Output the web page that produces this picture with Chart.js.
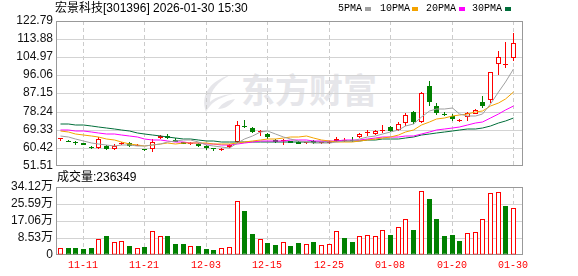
<!DOCTYPE html>
<html><head><meta charset="utf-8">
<script src="https://cdn.jsdelivr.net/npm/chart.js@4.4.1/dist/chart.umd.min.js"></script>
<style>
html,body{margin:0;padding:0;background:#fff;}
#wrap{position:relative;width:578px;height:276px;overflow:hidden;font-family:"Liberation Sans","Noto Sans CJK SC",sans-serif;}
#wm{position:absolute;left:241px;top:72px;font-size:34px;line-height:34px;font-weight:bold;color:#e6e6ea;font-family:"Noto Sans CJK SC",sans-serif;white-space:nowrap;}
#logo{position:absolute;left:198px;top:73px;}
canvas{position:absolute;left:0;}
#c1{top:0;} #c2{top:170px;}
.t{position:absolute;font-size:12px;line-height:12px;color:#000;white-space:nowrap;}
.lg{position:absolute;font-family:"Liberation Mono",monospace;font-size:10px;line-height:10px;color:#000;white-space:nowrap;top:4px;}
.sq{position:absolute;width:6px;height:4px;top:7px;}
</style></head>
<body>
<div id="wrap">
  <svg id="logo" width="40" height="42"><path d="M32 2 C12 8 2 22 8 39 C12 31 19 25 35 21 C23 22 16 25 12 29 C12 17 20 9 32 2 Z" fill="#e6e6ea"/><path d="M20 36 C24 30 30 27 37 26 C33 32 27 36 20 36 Z" fill="#e6e6ea"/></svg>
  <div id="wm">东方财富</div>
  <canvas id="c1" width="578" height="180"></canvas>
  <canvas id="c2" width="578" height="106"></canvas>
  <div class="t" style="left:55px;top:2px;">宏景科技[301396] 2026-01-30 15:30</div>
  <div class="lg" style="left:338px;">5PMA</div><div class="sq" style="left:365px;background:#a0a0a0"></div>
  <div class="lg" style="left:380px;">10PMA</div><div class="sq" style="left:412px;background:#f4a300"></div>
  <div class="lg" style="left:426px;">20PMA</div><div class="sq" style="left:459px;background:#ff00ff"></div>
  <div class="lg" style="left:472px;">30PMA</div><div class="sq" style="left:505px;background:#006e3a"></div>
  <div class="t" style="left:57px;top:171px;">成交量:236349</div>
</div>
<script>
const dates = ['11-06','11-07','11-10','11-11','11-12','11-13','11-14','11-17','11-18','11-19',
 '11-20','11-21','11-24','11-25','11-26','11-27','11-28','12-01','12-02','12-03',
 '12-04','12-05','12-08','12-09','12-10','12-11','12-12','12-15','12-16','12-17',
 '12-18','12-19','12-22','12-23','12-24','12-25','12-26','12-29','12-30','12-31',
 '01-05','01-06','01-07','01-08','01-09','01-12','01-13','01-14','01-15','01-16',
 '01-19','01-20','01-21','01-22','01-23','01-26','01-27','01-28','01-29','01-30'];
const open = [64.7,64.0,63.5,62.6,61.0,60.4,61.5,59.7,62.3,62.8, 61.5,59.8,59.8,65.1,66.3,64.5,63.2,62.4,62.4,61.4,
 60.3,59.6,60.7,63.3,71.1,70.4,68.1,67.3,64.5,63.8, 63.6,63.3,62.6,63.6,62.6,62.8,63.6,63.9,64.3,65.8,
 67.5,67.3,68.5,70.5,69.0,72.7,78.0,73.1,90.6,81.1, 77.0,76.2,73.4,75.4,77.1,83.2,84.1,101.6,101.2,104.5];
const close = [65.2,63.3,62.65,61.9,60.2,64.8,59.7,61.2,62.9,61.2, 62.0,59.2,63.5,66.3,65.5,63.5,62.5,62.9,61.2,60.2,
 59.7,60.1,61.9,71.7,70.5,68.1,68.7,65.6,63.1,64.4, 62.8,62.4,63.2,62.8,63.1,63.4,64.8,64.5,63.7,67.0,
 68.1,68.5,69.1,68.9,72.3,76.7,73.1,87.35,83.2,77.6, 76.4,74.4,74.0,77.6,79.0,80.8,97.9,105.0,101.8,111.86];
const high = [65.3,64.2,63.7,62.8,61.1,65.9,61.6,62.4,63.4,63.2, 62.2,60.0,64.8,66.8,67.2,65.1,63.5,63.2,62.6,61.9,
 60.6,60.3,62.1,73.8,74.1,70.9,69.0,67.8,64.7,64.6, 64.0,63.6,63.5,64.1,63.5,63.6,65.6,65.5,65.9,67.7,
 69.2,69.2,71.8,71.4,73.0,77.6,78.7,87.9,93.4,82.7, 78.3,77.1,74.6,78.3,79.4,85.7,97.9,107.8,112.7,116.8];
const low = [64.0,63.1,62.0,61.7,60.0,60.1,59.4,59.5,61.9,61.0, 61.3,58.9,58.4,64.6,65.0,63.3,62.2,62.0,61.0,59.6,
 59.0,58.9,60.6,63.0,70.0,67.8,66.4,64.9,62.9,62.0, 62.6,62.1,62.3,62.5,62.4,62.4,63.3,63.2,63.5,65.1,
 66.5,66.6,67.8,68.3,68.6,71.3,72.2,72.6,80.8,76.8, 75.9,73.8,73.3,73.8,77.0,80.0,82.5,96.3,99.9,102.9];
const volume = [37000,37000,37000,32000,37000,82000,93000,65000,70000,47000,
 36000,42000,120000,97000,97000,57000,57000,47000,47000,32000,
 27000,37000,42000,270000,221000,107000,82000,62000,52000,65000,
 47000,62000,56000,67000,52000,57000,122000,87000,67000,97000,
 102000,97000,125000,102000,141000,181000,126000,320000,282000,181000,
 97000,102000,72000,112000,117000,181000,309000,315000,246000,236349];
const ma5 = [66.4,65.6,64.7,63.6,62.59,62.57,61.85,61.56,61.72,61.92, 61.34,61.26,61.72,62.44,63.30,63.62,64.26,64.12,63.10,62.04,
 61.28,60.77,60.59,62.69,64.79,66.47,68.18,68.92,67.20,65.92, 64.86,63.64,63.11,63.05,62.79,62.85,63.33,63.58,63.80,64.60,
 65.56,66.30,67.24,68.22,69.28,71.04,71.96,75.65,78.53,79.59, 79.53,79.79,77.10,75.98,76.26,77.14,81.84,88.06,92.86,99.43];
const ma10 = [68.5,68.0,67.4,66.8,66.1,65.6,65.0,64.2,63.3,62.26, 61.96,61.56,61.64,62.08,62.61,62.48,62.76,62.92,62.77,62.67,
 62.45,62.52,62.36,62.90,63.42,63.88,64.48,64.76,64.95,65.36, 65.67,65.91,66.02,65.13,64.36,63.86,63.49,63.35,63.43,63.70,
 64.20,64.82,65.41,66.01,66.94,68.30,69.13,71.45,73.38,74.44, 75.29,75.88,76.38,77.26,77.93,78.34,80.82,82.58,84.42,87.85];
const ma20 = [69.4,69.1,68.9,68.6,68.2,67.8,67.4,67.0,66.6,66.1, 65.6,65.0,64.5,64.1,63.8,63.5,63.2,63.0,62.7,62.46,
 62.20,62.04,62.00,62.49,63.01,63.18,63.62,63.84,63.86,64.01, 64.06,64.21,64.19,64.01,63.89,63.87,63.98,64.05,64.19,64.53,
 64.94,65.36,65.71,65.57,65.65,66.08,66.31,67.40,68.40,69.07, 69.75,70.35,70.89,71.63,72.43,73.32,74.97,77.01,78.90,81.14];
const ma30 = [72.3,72.1,71.9,71.6,71.2,70.8,70.3,69.8,69.2,68.6, 67.9,67.2,66.6,66.2,65.8,65.4,65.0,64.6,64.2,63.9,
 63.6,63.4,63.3,63.3,63.3,63.3,63.4,63.4,63.4,63.43, 63.36,63.33,63.34,63.37,63.46,63.40,63.57,63.67,63.71,63.91,
 64.11,64.41,64.59,64.68,64.90,65.34,65.70,66.52,67.25,67.83, 68.39,68.87,69.27,69.46,69.74,70.16,71.14,72.46,73.74,75.33];
const priceTicks = [51.51,60.42,69.33,78.24,87.15,96.06,104.97,113.88,122.79];
const volTicks = [0,85300,170600,255900,341200];
const gridIdx = [3,11,19,27,35,43,51,59];

const RED = '#ff0000', GREEN = '#008000';
const N = close.length;
const idx = Array.from({length: N}, (_, i) => i);
const candleUp = idx.map(i => close[i] >= open[i]);
const volUp = idx.map(i => i === 0 ? candleUp[0] : close[i] >= close[i - 1]);
const XMIN = -0.5, XMAX = 60.3;

const frame = {
  id: 'frame',
  beforeDatasetsDraw(chart) {
    const {ctx, chartArea: a} = chart;
    ctx.save();
    ctx.strokeStyle = '#999';
    ctx.lineWidth = 1;
    const l = Math.round(a.left), t = Math.round(a.top), r = Math.round(a.right), b = Math.round(a.bottom);
    ctx.strokeRect(l + 0.5, t + 0.5, r - l - 1, b - t - 1);
    ctx.restore();
  }
};
// shift dataset drawing half a pixel so odd-width bars land on whole pixels
const crisp = {
  id: 'crisp',
  beforeDatasetsDraw(chart) { chart.ctx.save(); chart.ctx.translate(0.5, 0); },
  afterDatasetsDraw(chart) { chart.ctx.restore(); }
};

const lineDs = (arr, color) => ({
  type: 'line', data: arr.map((v, i) => ({x: i, y: v})), borderColor: color, borderWidth: 1,
  pointRadius: 0, tension: 0, fill: false
});

const xGrid = {
  type: 'linear', min: XMIN, max: XMAX, offset: false, alignToPixels: true,
  afterBuildTicks: a => { a.ticks = gridIdx.map(v => ({value: v})); },
  grid: {color: '#cccccc', drawTicks: false, offset: false},
  border: {display: false, dash: [4, 3]}
};

new Chart(document.getElementById('c1'), {
  type: 'bar',
  data: {
    datasets: [
      lineDs(ma5, '#a0a0a0'),
      lineDs(ma10, '#f4a300'),
      lineDs(ma20, '#ff00ff'),
      lineDs(ma30, '#006e3a'),
      {
        type: 'bar', grouped: false,
        data: idx.map(i => ({x: i, y: [open[i], close[i]]})),
        backgroundColor: idx.map(i => candleUp[i] ? '#ffffff' : GREEN),
        borderColor: idx.map(i => candleUp[i] ? RED : GREEN),
        borderWidth: 1, borderSkipped: false, inflateAmount: 0,
        barThickness: 5, maxBarThickness: 5
      },
      {
        type: 'bar', grouped: false,
        data: idx.map(i => ({x: i, y: [low[i], high[i]]})),
        backgroundColor: idx.map(i => candleUp[i] ? RED : GREEN),
        borderWidth: 0, borderSkipped: false, inflateAmount: 0,
        barThickness: 1, maxBarThickness: 1
      }
    ]
  },
  options: {
    responsive: false, animation: false, events: [],
    layout: {padding: {top: 21, right: 55, bottom: 14, left: 0}},
    plugins: {legend: {display: false}, tooltip: {enabled: false}},
    scales: {
      x: Object.assign({}, xGrid, {ticks: {display: false}, afterFit: a => { a.height = 0; }}),
      y: {
        min: priceTicks[0], max: priceTicks[priceTicks.length - 1], alignToPixels: true,
        afterBuildTicks: a => { a.ticks = priceTicks.map(v => ({value: v})); },
        afterFit: a => { a.width = 56; },
        ticks: {autoSkip: false, padding: 3, color: '#111', font: {size: 12, family: 'Liberation Sans'},
          callback: v => v.toFixed(2)},
        grid: {drawTicks: false, color: c => (c.index === 0 || c.index === priceTicks.length - 1) ? 'rgba(0,0,0,0)' : '#d3d3d3'},
        border: {display: false}
      }
    }
  },
  plugins: [frame, crisp]
});

new Chart(document.getElementById('c2'), {
  type: 'bar',
  data: {
    datasets: [{
      data: idx.map(i => ({x: i, y: volume[i]})),
      backgroundColor: idx.map(i => volUp[i] ? '#ffffff' : GREEN),
      borderColor: idx.map(i => volUp[i] ? RED : GREEN),
      borderWidth: 1, borderSkipped: false, inflateAmount: 0,
      barThickness: 5, maxBarThickness: 5
    }]
  },
  options: {
    responsive: false, animation: false, events: [],
    layout: {padding: {top: 17, right: 55, bottom: 0, left: 0}},
    plugins: {legend: {display: false}, tooltip: {enabled: false}},
    scales: {
      x: Object.assign({}, xGrid, {
        afterFit: a => { a.height = 21; },
        ticks: {autoSkip: false, maxRotation: 0, padding: 4, color: RED,
          font: {size: 10, family: 'Liberation Mono'},
          callback: v => dates[v] || ''}
      }),
      y: {
        min: 0, max: volTicks[volTicks.length - 1], alignToPixels: true,
        afterBuildTicks: a => { a.ticks = volTicks.map(v => ({value: v})); },
        afterFit: a => { a.width = 56; },
        ticks: {autoSkip: false, padding: 3, color: '#111', font: {size: 12, family: "'Liberation Sans','Noto Sans CJK SC'"},
          callback: v => v === 0 ? '0' : (v / 10000).toFixed(2) + '万'},
        grid: {drawTicks: false, color: c => (c.index === 0 || c.index === volTicks.length - 1) ? 'rgba(0,0,0,0)' : '#d3d3d3'},
        border: {display: false}
      }
    }
  },
  plugins: [frame, crisp]
});
</script>
</body></html>
